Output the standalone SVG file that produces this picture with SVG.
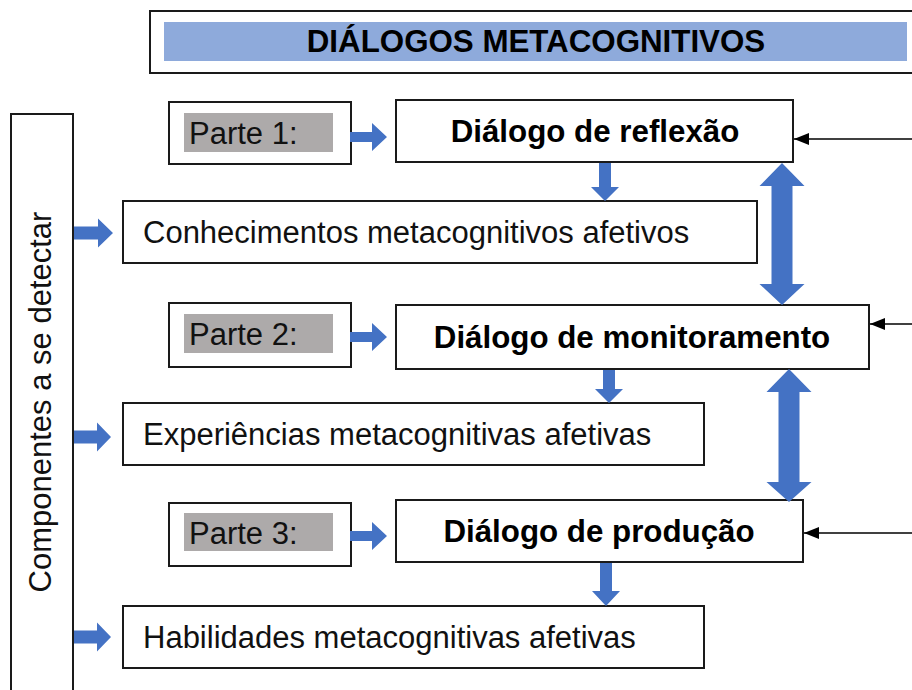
<svg xmlns="http://www.w3.org/2000/svg" width="912" height="690" viewBox="0 0 912 690">
<defs>
<style>
.box{fill:#fff;stroke:#1a1a1a;stroke-width:2}
.grey{fill:#ADAAAA}
.band{fill:#8EAADB}
.t{font-family:"Liberation Sans",Arial,sans-serif;font-size:31px;fill:#111}
.b{font-family:"Liberation Sans",Arial,sans-serif;font-size:31.3px;font-weight:bold;fill:#000}
.blue{fill:#4472C4}
.thin{stroke:#000;stroke-width:1.5;fill:none;marker-end:url(#ah)}
</style>
<marker id="ah" markerUnits="userSpaceOnUse" markerWidth="16" markerHeight="12" refX="15" refY="6" orient="auto">
<path d="M0,0 L15,6 L0,12 Z" fill="#000"/>
</marker>
</defs>
<rect width="912" height="690" fill="#fff"/>

<g id="title">
<rect class="box" x="150" y="11" width="780" height="62"/>
<rect class="band" x="164" y="22" width="743" height="39"/>
<text class="b" x="536" y="52" text-anchor="middle">DIÁLOGOS METACOGNITIVOS</text>
</g>

<g id="componentes">
<rect class="box" x="11" y="114" width="62" height="600"/>
<text class="t" transform="translate(51,402) rotate(-90)" text-anchor="middle">Componentes a se detectar</text>
</g>

<g id="parte1">
<rect class="box" x="169" y="102" width="182" height="62"/>
<rect class="grey" x="184" y="113" width="149" height="39"/>
<text class="t" x="189" y="144">Parte 1:</text>
</g>
<g id="parte2">
<rect class="box" x="169" y="303" width="182" height="64"/>
<rect class="grey" x="184" y="314" width="149" height="39"/>
<text class="t" x="189" y="345">Parte 2:</text>
</g>
<g id="parte3">
<rect class="box" x="169" y="503" width="182" height="63"/>
<rect class="grey" x="184" y="513" width="149" height="38"/>
<text class="t" x="189" y="544">Parte 3:</text>
</g>

<g id="reflexao">
<rect class="box" x="396" y="100" width="397" height="62"/>
<text class="b" x="595" y="142" text-anchor="middle">Diálogo de reflexão</text>
</g>
<g id="monitoramento">
<rect class="box" x="396" y="305" width="473" height="64"/>
<text class="b" x="632" y="348" text-anchor="middle">Diálogo de monitoramento</text>
</g>
<g id="producao">
<rect class="box" x="396" y="500" width="407" height="62"/>
<text class="b" x="599" y="542" text-anchor="middle">Diálogo de produção</text>
</g>

<g id="conhecimentos">
<rect class="box" x="123" y="201" width="634" height="62"/>
<text class="t" x="143" y="243">Conhecimentos metacognitivos afetivos</text>
</g>
<g id="experiencias">
<rect class="box" x="123" y="403" width="581" height="62"/>
<text class="t" x="143" y="445">Experiências metacognitivas afetivas</text>
</g>
<g id="habilidades">
<rect class="box" x="123" y="606" width="581" height="62"/>
<text class="t" x="143" y="648">Habilidades metacognitivas afetivas</text>
</g>

<g id="connectors">
<path class="blue" d="M350,132 H372 V123 L387,137 L372,151 V142 H350 Z"/>
<path class="blue" d="M350,332 H372 V323 L387,337 L372,351 V342 H350 Z"/>
<path class="blue" d="M350,531 H372 V522 L387,536 L372,550 V541 H350 Z"/>

<path class="blue" d="M74,226.5 H98 V218.5 L113,233 L98,247.5 V239.5 H74 Z"/>
<path class="blue" d="M74,430.5 H97 V422.5 L111,437 L97,451.5 V443.5 H74 Z"/>
<path class="blue" d="M74,630.5 H97 V622.5 L111,637 L97,651.5 V643.5 H74 Z"/>

<path class="blue" d="M599,163 H611 V187 H619 L605,201 L591,187 H599 Z"/>
<path class="blue" d="M603,370 H615 V389 H623 L609,403 L595,389 H603 Z"/>
<path class="blue" d="M600,563 H612 V591 H620 L606,606 L592,591 H600 Z"/>

<path class="blue" d="M782,163 L804.5,186 H792.5 V284 H804.5 L782,305 L759.5,284 H771.5 V186 H759.5 Z"/>
<path class="blue" d="M789,369 L811.5,392 H799.5 V482 H811.5 L789,502 L766.5,482 H778.5 V392 H766.5 Z"/>

<line class="thin" x1="912" y1="139" x2="794" y2="139"/>
<line class="thin" x1="912" y1="324" x2="870" y2="324"/>
<line class="thin" x1="912" y1="533" x2="804" y2="533"/>
</g>
</svg>
